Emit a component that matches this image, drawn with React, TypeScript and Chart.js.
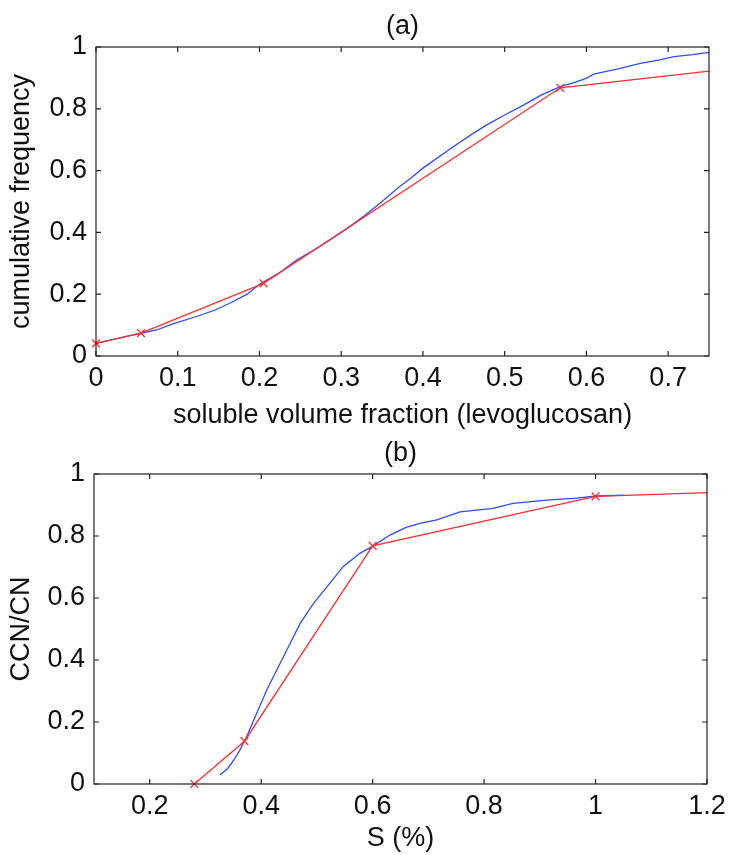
import React, { useEffect, useRef } from "react";
import { Chart, registerables } from "chart.js";

Chart.register(...registerables);

// ---------- Panel (a) data ----------
const aTitle = "(a)";
const aXLabel = "soluble volume fraction (levoglucosan)";
const aYLabel = "cumulative frequency";
const aXTicks = [0, 0.1, 0.2, 0.3, 0.4, 0.5, 0.6, 0.7];
const aYTicks = [0, 0.2, 0.4, 0.6, 0.8, 1];
const aXMin = 0;
const aXMax = 0.75;
const aMeasuredX = [0, 0.02, 0.04, 0.055, 0.075, 0.094, 0.122, 0.145, 0.163, 0.185, 0.2, 0.225, 0.245, 0.265, 0.282, 0.306, 0.327, 0.35, 0.37, 0.385, 0.4, 0.437, 0.46, 0.478, 0.5, 0.523, 0.545, 0.568, 0.585, 0.6, 0.609, 0.64, 0.666, 0.69, 0.707, 0.73, 0.743, 0.75];
const aMeasuredY = [0.041, 0.053, 0.065, 0.073, 0.085, 0.104, 0.127, 0.148, 0.17, 0.2, 0.232, 0.27, 0.31, 0.34, 0.368, 0.41, 0.451, 0.5, 0.545, 0.575, 0.608, 0.677, 0.718, 0.748, 0.78, 0.812, 0.845, 0.872, 0.885, 0.899, 0.912, 0.93, 0.947, 0.958, 0.969, 0.975, 0.98, 0.982];
const aFitX = [0, 0.055, 0.205, 0.568, 0.75];
const aFitY = [0.041, 0.074, 0.235, 0.868, 0.922];

// ---------- Panel (b) data ----------
const bTitle = "(b)";
const bXLabel = "S (%)";
const bYLabel = "CCN/CN";
const bXTicks = [0.2, 0.4, 0.6, 0.8, 1, 1.2];
const bYTicks = [0, 0.2, 0.4, 0.6, 0.8, 1];
const bXMin = 0.1;
const bXMax = 1.2;
const bMeasuredX = [0.326, 0.34, 0.35, 0.362, 0.374, 0.392, 0.41, 0.428, 0.446, 0.47, 0.494, 0.518, 0.547, 0.577, 0.601, 0.631, 0.66, 0.685, 0.715, 0.757, 0.816, 0.852, 0.912, 0.966, 1.002, 1.05];
const bMeasuredY = [0.029, 0.05, 0.075, 0.11, 0.153, 0.228, 0.303, 0.368, 0.432, 0.518, 0.583, 0.636, 0.701, 0.744, 0.768, 0.803, 0.828, 0.841, 0.852, 0.878, 0.889, 0.905, 0.916, 0.922, 0.929, 0.932];
const bFitX = [0.28, 0.37, 0.6, 1.0, 1.2];
const bFitY = [0, 0.138, 0.768, 0.928, 0.94];

const FONT = '"Liberation Sans", Arial, Helvetica, sans-serif';
const FONT_SIZE = 27;
const TEXT = "#111";
const BLUE = "rgb(45,75,255)";
const RED = "rgb(255,45,45)";

const framePlugin = {
  id: "frame",
  afterDatasetsDraw(chart: any, _args: any, opts: any) {
    const { ctx, chartArea, scales } = chart;
    const { left, right, top, bottom } = chartArea;
    const xs = scales.x;
    const ys = scales.y;
    const tl = 5;
    ctx.save();
    ctx.strokeStyle = "#222";
    ctx.lineWidth = 1.2;
    ctx.strokeRect(left, top, right - left, bottom - top);
    ctx.beginPath();
    (opts.xTicks || []).forEach((v: number) => {
      const px = xs.getPixelForValue(v);
      ctx.moveTo(px, bottom);
      ctx.lineTo(px, bottom - tl);
      ctx.moveTo(px, top);
      ctx.lineTo(px, top + tl);
    });
    (opts.yTicks || []).forEach((v: number) => {
      const py = ys.getPixelForValue(v);
      ctx.moveTo(left, py);
      ctx.lineTo(left + tl, py);
      ctx.moveTo(right, py);
      ctx.lineTo(right - tl, py);
    });
    ctx.stroke();
    if (opts.title) {
      ctx.fillStyle = TEXT;
      ctx.font = `${FONT_SIZE}px ${FONT}`;
      ctx.textAlign = "center";
      ctx.textBaseline = "middle";
      ctx.fillText(opts.title, (left + right) / 2, top - 20);
    }
    ctx.restore();
  },
};

type PanelSpec = {
  title: string;
  xLabel: string;
  yLabel: string;
  xTicks: number[];
  yTicks: number[];
  xMin: number;
  xMax: number;
  measuredX: number[];
  measuredY: number[];
  fitX: number[];
  fitY: number[];
  width: number;
  height: number;
  padTop: number;
  padRight: number;
  yAxisWidth: number;
  xAxisHeight: number;
  xTitlePadBottom: number;
};

const fmt = (v: any) => String(Math.round(Number(v) * 100) / 100);

function makeChart(canvas: HTMLCanvasElement, s: PanelSpec) {
  const measured = s.measuredX.map((x, i) => ({ x, y: s.measuredY[i] }));
  const fit = s.fitX.map((x, i) => ({ x, y: s.fitY[i] }));
  const lastFit = fit.length - 1;
  return new Chart(canvas, {
    type: "line",
    data: {
      datasets: [
        {
          data: fit,
          borderColor: RED,
          backgroundColor: RED,
          borderWidth: 1.3,
          pointStyle: "crossRot",
          pointRadius: (c: any) => (c.dataIndex === lastFit ? 0 : 5.5),
          pointBorderColor: RED,
          pointBorderWidth: 1.3,
          tension: 0,
          clip: false as any,
          order: 0,
        },
        {
          data: measured,
          borderColor: BLUE,
          borderWidth: 1.3,
          pointRadius: 0,
          tension: 0,
          order: 1,
        },
      ],
    },
    options: {
      responsive: false,
      animation: false,
      devicePixelRatio: 1,
      layout: { padding: { top: s.padTop, right: s.padRight, left: 0, bottom: 0 } },
      plugins: {
        legend: { display: false },
        tooltip: { enabled: false },
        title: { display: false },
        frame: { title: s.title, xTicks: s.xTicks, yTicks: s.yTicks },
      } as any,
      scales: {
        x: {
          type: "linear",
          min: s.xMin,
          max: s.xMax,
          grid: { display: false, drawTicks: false },
          border: { display: false },
          ticks: {
            color: TEXT,
            font: { family: FONT, size: FONT_SIZE },
            padding: 6,
            maxRotation: 0,
            autoSkip: false,
            callback: fmt,
          },
          afterBuildTicks: (sc: any) => {
            sc.ticks = s.xTicks.map((v) => ({ value: v }));
          },
          afterFit: (sc: any) => {
            sc.height = s.xAxisHeight;
          },
          title: {
            display: true,
            text: s.xLabel,
            color: TEXT,
            font: { family: FONT, size: FONT_SIZE },
            padding: { top: 0, bottom: s.xTitlePadBottom },
          },
        },
        y: {
          type: "linear",
          min: 0,
          max: 1,
          grid: { display: false, drawTicks: false },
          border: { display: false },
          ticks: {
            color: TEXT,
            font: { family: FONT, size: FONT_SIZE },
            padding: 9,
            autoSkip: false,
            callback: fmt,
          },
          afterBuildTicks: (sc: any) => {
            sc.ticks = s.yTicks.map((v) => ({ value: v }));
          },
          afterFit: (sc: any) => {
            sc.width = s.yAxisWidth;
          },
          title: {
            display: true,
            text: s.yLabel,
            color: TEXT,
            font: { family: FONT, size: FONT_SIZE },
            padding: { top: 5, bottom: 0 },
          },
        },
      },
    } as any,
    plugins: [framePlugin],
  });
}

const panelA: PanelSpec = {
  title: aTitle, xLabel: aXLabel, yLabel: aYLabel, xTicks: aXTicks, yTicks: aYTicks,
  xMin: aXMin, xMax: aXMax, measuredX: aMeasuredX, measuredY: aMeasuredY, fitX: aFitX, fitY: aFitY,
  width: 732, height: 440, padTop: 47, padRight: 23, yAxisWidth: 96, xAxisHeight: 84, xTitlePadBottom: 8,
};

const panelB: PanelSpec = {
  title: bTitle, xLabel: bXLabel, yLabel: bYLabel, xTicks: bXTicks, yTicks: bYTicks,
  xMin: bXMin, xMax: bXMax, measuredX: bMeasuredX, measuredY: bMeasuredY, fitX: bFitX, fitY: bFitY,
  width: 732, height: 425, padTop: 44, padRight: 25, yAxisWidth: 94, xAxisHeight: 71, xTitlePadBottom: 0,
};

function Panel({ spec, top }: { spec: PanelSpec; top: number }) {
  const ref = useRef<HTMLCanvasElement | null>(null);
  useEffect(() => {
    if (!ref.current) return;
    const chart = makeChart(ref.current, spec);
    return () => chart.destroy();
  }, [spec]);
  return (
    <canvas
      ref={ref}
      width={spec.width}
      height={spec.height}
      style={{ position: "absolute", left: 0, top, width: spec.width, height: spec.height }}
    />
  );
}

export default function App() {
  return (
    <div style={{ position: "fixed", left: 0, top: 0, width: 732, height: 855, background: "#fff" }}>
      <Panel spec={panelA} top={0} />
      <Panel spec={panelB} top={430} />
    </div>
  );
}
